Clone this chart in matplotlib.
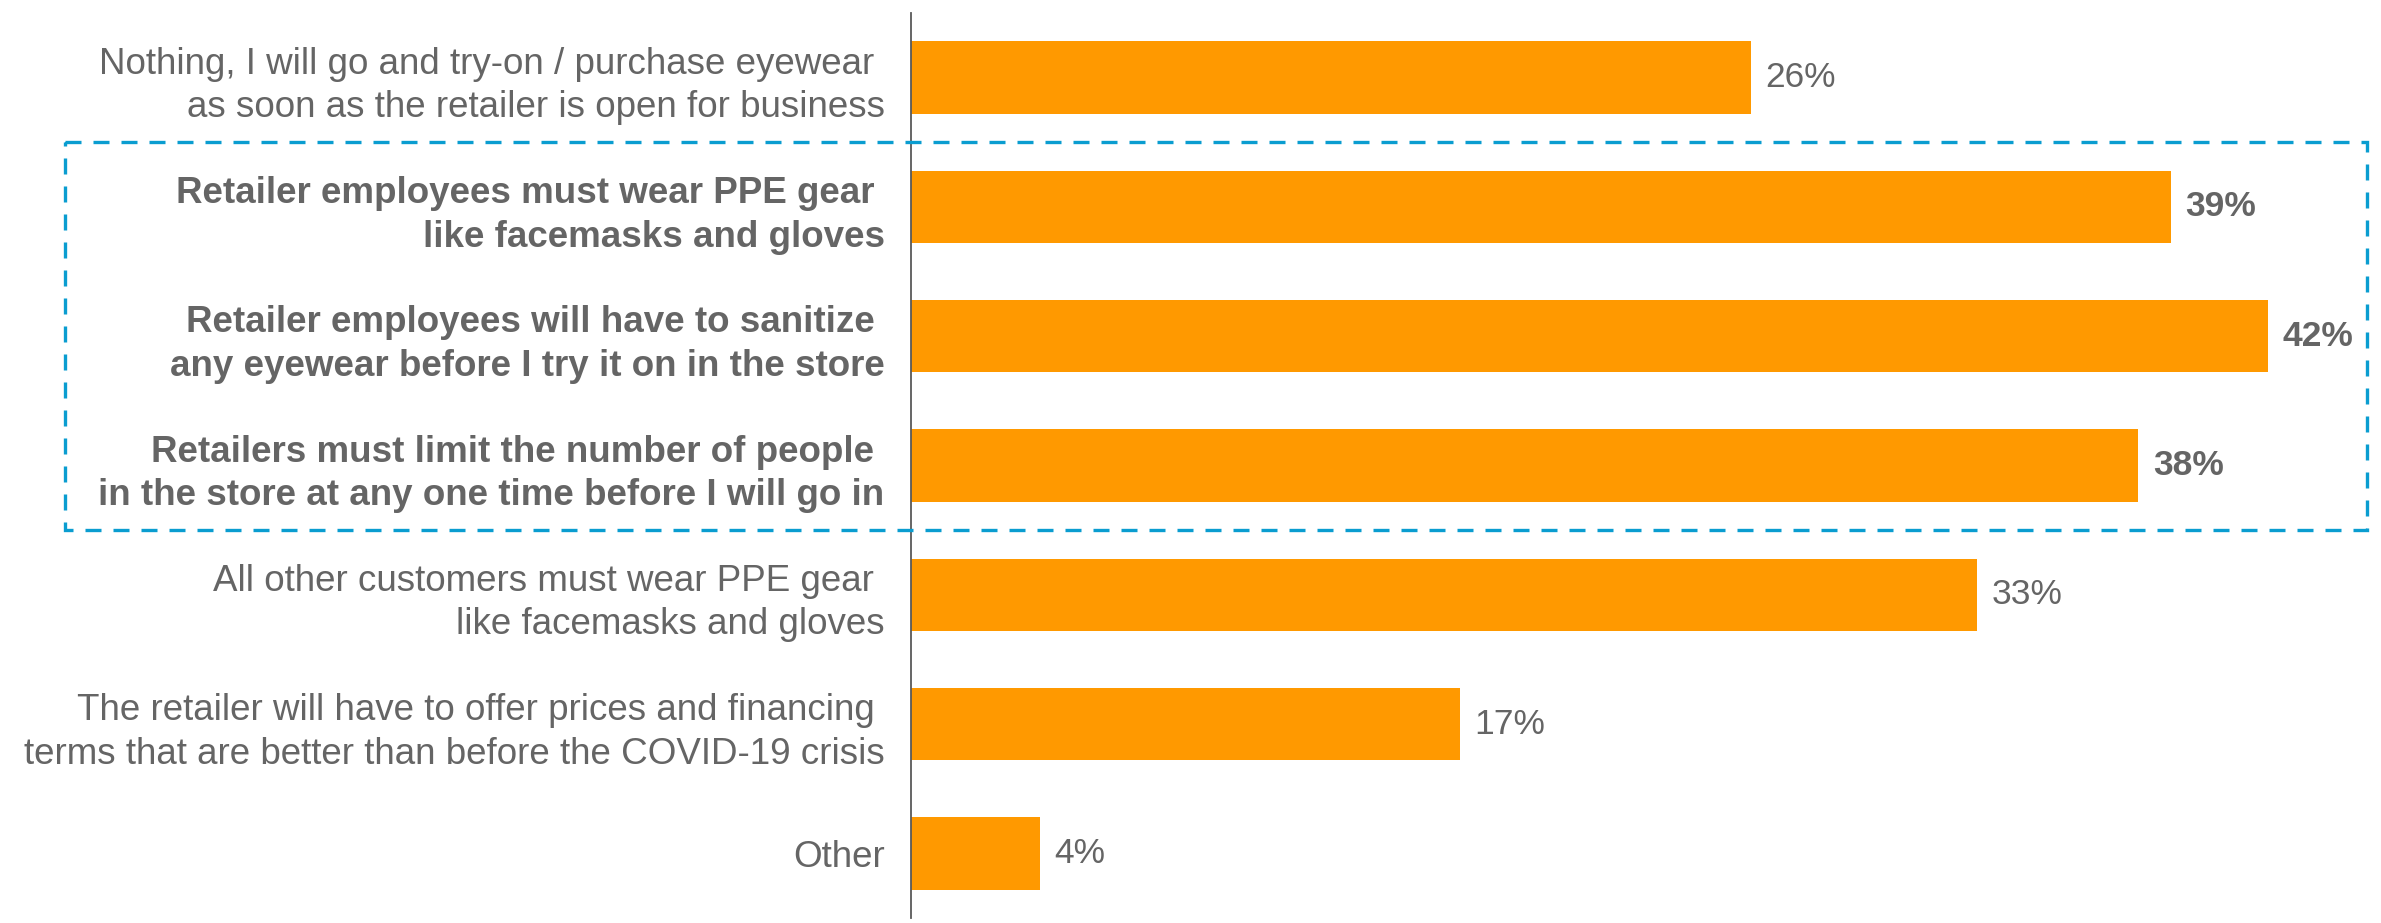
import matplotlib.pyplot as plt
from matplotlib.patches import Rectangle
from matplotlib.transforms import blended_transform_factory

plt.rcParams['font.family'] = ['Liberation Sans', 'DejaVu Sans']

labels = [
    "Nothing, I will go and try-on / purchase eyewear \nas soon as the retailer is open for business",
    "Retailer employees must wear PPE gear \nlike facemasks and gloves",
    "Retailer employees will have to sanitize \nany eyewear before I try it on in the store",
    "Retailers must limit the number of people \nin the store at any one time before I will go in",
    "All other customers must wear PPE gear \nlike facemasks and gloves",
    "The retailer will have to offer prices and financing \nterms that are better than before the COVID-19 crisis",
    "Other",
]
values = [26, 39, 42, 38, 33, 17, 4]
highlight = [False, True, True, True, False, False, False]

bar_color = "#FF9900"
text_color = "#656565"
box_color = "#0A9DD0"

W, H = 2381, 923
px_per_pct = 32.3
fig = plt.figure(figsize=(W / 100, H / 100), dpi=100)
ax = fig.add_axes([911 / W, 5 / H, 1 - 911 / W, 905 / H])

pos = list(range(len(values)))
ax.barh(pos, values, height=0.56, color=bar_color)

ax.set_xlim(0, 1470 / px_per_pct)
ax.set_ylim(len(values) - 0.5, -0.5)

for y, v, hl in zip(pos, values, highlight):
    ax.text(v + 0.45, y, f"{v}%", va="center", ha="left", fontsize=25.5,
            color=text_color, fontweight="bold" if hl else "normal")

ax.set_yticks(pos)
ax.set_yticklabels(labels, fontsize=26.5, color=text_color, linespacing=1.32)
for t, hl in zip(ax.get_yticklabels(), highlight):
    if hl:
        t.set_fontweight("bold")
ax.tick_params(axis="y", length=0, pad=19)
ax.set_xticks([])

for s in ["top", "right", "bottom"]:
    ax.spines[s].set_visible(False)
ax.spines["left"].set_color("#595959")
ax.spines["left"].set_linewidth(1.3)

# dashed frame around the three retailer-side measures
tr = blended_transform_factory(fig.transFigure, ax.transData)
box = Rectangle((65 / W, 0.5), (2367 - 65) / W, 3.0, transform=tr,
                fill=False, edgecolor=box_color, linewidth=2.4,
                linestyle=(0, (4.8, 3.6)), clip_on=False)
fig.add_artist(box)

fig.savefig("out.png", dpi=100)
